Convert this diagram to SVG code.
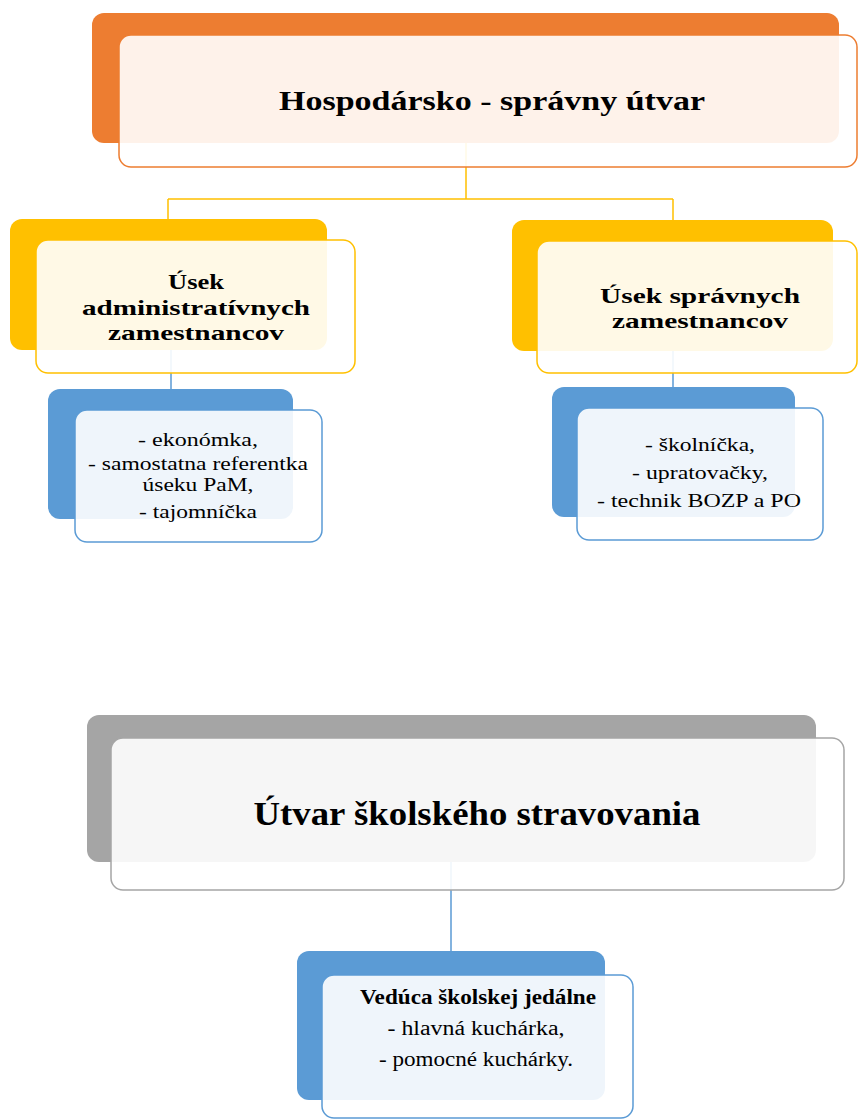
<svg xmlns="http://www.w3.org/2000/svg" width="858" height="1120" viewBox="0 0 858 1120">
<style>
.bg{fill:#ffffff}
.front{fill:#ffffff;fill-opacity:0.9;stroke-width:1.5}
.or{fill:#ED7D31}.ors{stroke:#ED7D31}
.ye{fill:#FFC000}.yes{stroke:#FFC000}
.bl{fill:#5B9BD5}.bls{stroke:#5B9BD5}
.gr{fill:#A5A5A5}.grs{stroke:#A5A5A5}
.t{font-family:"Liberation Serif","Times New Roman",serif;fill:#000;text-anchor:middle}
.b{font-weight:bold}
.conn{fill:none;stroke-width:1.5}
</style>
<rect class="bg" x="0" y="0" width="858" height="1120"/>
<g id="connectors">
<path class="conn" stroke="#FFC000" d="M466,143 V199 M168,199 H673 M168,199 V220 M673,199 V220"/>
<path class="conn" stroke="#5B9BD5" d="M171,350 V389 M673,351 V388 M451,862 V951"/>
</g>
<g id="node-hospodarsko">
<rect class="or" x="92" y="13" width="747" height="130" rx="12"/>
<rect class="front ors" x="119" y="35" width="738" height="132" rx="12"/>
<text class="t b" x="492" y="110" font-size="28" textLength="426" lengthAdjust="spacingAndGlyphs">Hospodársko - správny útvar</text>
</g>
<g id="node-administrativni">
<rect class="ye" x="10" y="219" width="317" height="131" rx="12"/>
<rect class="front yes" x="36" y="240" width="319" height="133" rx="12"/>
<text class="t b" font-size="21"><tspan x="196" y="289" textLength="56" lengthAdjust="spacingAndGlyphs">Úsek</tspan><tspan x="196" y="315" textLength="228" lengthAdjust="spacingAndGlyphs">administratívnych</tspan><tspan x="196" y="340" textLength="176" lengthAdjust="spacingAndGlyphs">zamestnancov</tspan></text>
</g>
<g id="node-spravni">
<rect class="ye" x="512" y="220" width="321" height="131" rx="12"/>
<rect class="front yes" x="537" y="241" width="320" height="132" rx="12"/>
<text class="t b" font-size="21"><tspan x="700" y="303" textLength="200" lengthAdjust="spacingAndGlyphs">Úsek správnych</tspan><tspan x="700" y="328" textLength="176" lengthAdjust="spacingAndGlyphs">zamestnancov</tspan></text>
</g>
<g id="node-admin-list">
<rect class="bl" x="48" y="389" width="245" height="130" rx="12"/>
<rect class="front bls" x="75" y="410" width="247" height="132" rx="12"/>
<text class="t" font-size="18"><tspan x="198" y="446" textLength="120" lengthAdjust="spacingAndGlyphs">- ekonómka,</tspan><tspan x="198" y="470" textLength="220" lengthAdjust="spacingAndGlyphs">- samostatna referentka</tspan><tspan x="198" y="491" textLength="111" lengthAdjust="spacingAndGlyphs">úseku PaM,</tspan><tspan x="198" y="518" textLength="118" lengthAdjust="spacingAndGlyphs">- tajomníčka</tspan></text>
</g>
<g id="node-spravni-list">
<rect class="bl" x="552" y="387" width="243" height="130" rx="12"/>
<rect class="front bls" x="577" y="408" width="246" height="132" rx="12"/>
<text class="t" font-size="19"><tspan x="700" y="451" textLength="110" lengthAdjust="spacingAndGlyphs">- školníčka,</tspan><tspan x="700" y="479" textLength="136" lengthAdjust="spacingAndGlyphs">- upratovačky,</tspan><tspan x="699" y="507" textLength="204" lengthAdjust="spacingAndGlyphs">- technik BOZP a PO</tspan></text>
</g>
<g id="node-stravovanie">
<rect class="gr" x="87" y="715" width="729" height="147" rx="12"/>
<rect class="front grs" x="111" y="738" width="733" height="152" rx="12"/>
<text class="t b" x="477" y="825" font-size="34" textLength="447" lengthAdjust="spacingAndGlyphs">Útvar školského stravovania</text>
</g>
<g id="node-jedalen">
<rect class="bl" x="297" y="951" width="308" height="149" rx="12"/>
<rect class="front bls" x="322" y="975" width="311" height="143" rx="12"/>
<text class="t" font-size="20"><tspan class="b" x="478" y="1004" textLength="236" lengthAdjust="spacingAndGlyphs">Vedúca školskej jedálne</tspan><tspan x="476" y="1035" textLength="177" lengthAdjust="spacingAndGlyphs">- hlavná kuchárka,</tspan><tspan x="476" y="1066" textLength="194" lengthAdjust="spacingAndGlyphs">- pomocné kuchárky.</tspan></text>
</g>
</svg>
